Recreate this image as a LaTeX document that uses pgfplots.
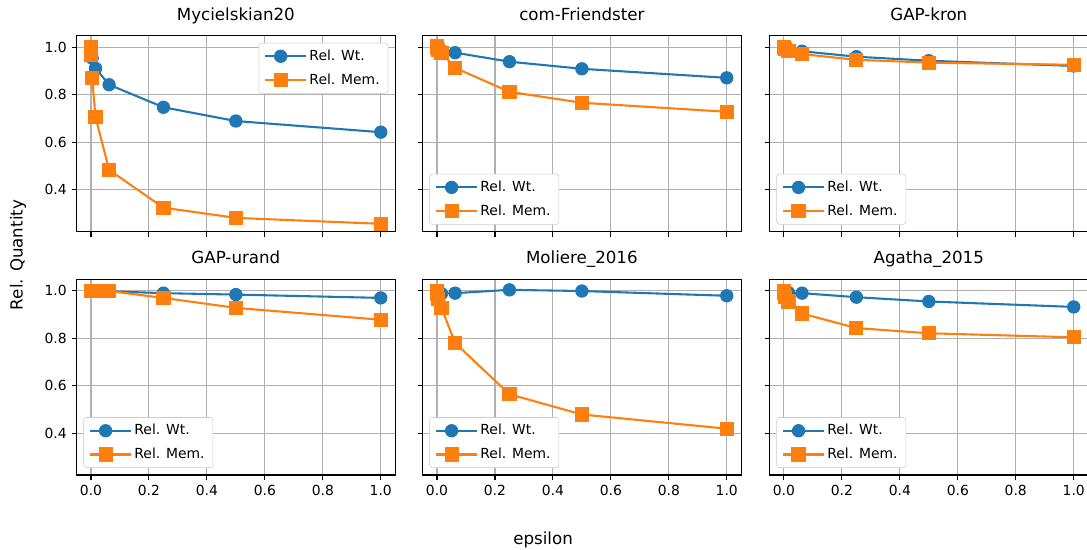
\documentclass[border=0pt]{standalone}
\usepackage{fontspec}
\setmainfont{DejaVu Sans}
\usepackage{pgfplots}
\pgfplotsset{compat=1.18}
\definecolor{c0}{HTML}{1F77B4}
\definecolor{c1}{HTML}{FF7F0E}
\pgfplotsset{
  panel/.style={
    scale only axis, width=229.5pt, height=141pt,
    xmin=-0.05, xmax=1.05, ymin=0.224, ymax=1.049,
    xtick={0,0.2,0.4,0.6,0.8,1}, ytick={0.4,0.6,0.8,1.0},
    /pgf/number format/assume math mode=true,
    tick label style={font=\fontsize{10}{12}\selectfont},
    xticklabel style={/pgf/number format/.cd, fixed, fixed zerofill, precision=1},
    yticklabel style={/pgf/number format/.cd, fixed, fixed zerofill, precision=1},
    tick align=outside, major tick length=3.5pt, tick pos=left,
    every tick/.style={black, line width=0.8pt},
    grid=major, major grid style={color=black!31, line width=0.8pt},
    axis line style={line width=0.8pt},
    title style={font=\fontsize{12}{14.4}\selectfont, at={(0.5,1)}, anchor=base, yshift=5pt},
    legend style={draw=black!20, rounded corners=2pt, fill=white,
      font=\fontsize{10}{12}\selectfont, inner xsep=4pt, inner ysep=3pt, row sep=4pt,
      cells={anchor=west}},
    legend cell align=left,
    legend image code/.code={\draw[mark repeat=2,mark phase=2,##1] plot coordinates {(0pt,0pt) (11pt,0pt) (22pt,0pt)};
      \path (0pt,0pt) -- (29pt,0pt);},
  },
  ll/.style={legend style={at={(axis description cs:0,0)}, anchor=south west, xshift=5pt, yshift=5pt}},
  ur/.style={legend style={at={(axis description cs:1,1)}, anchor=north east, xshift=-5pt, yshift=-5pt}},
  wt/.style={color=c0, line width=1.5pt, mark=*, mark size=4.3pt, mark options={solid, fill=c0, line width=1pt}},
  mem/.style={color=c1, line width=1.5pt, mark=square*, mark size=4.6pt, mark options={solid, fill=c1, line width=1pt}},
}
\begin{document}
\begin{tikzpicture}
\path[use as bounding box] (0,0) rectangle (782.64pt,396pt);
% Row 1
\begin{axis}[panel, ur, at={(55.08pt,229.2pt)}, anchor=south west, title={Mycielskian20}, xticklabels={}]
\addplot[wt] coordinates {(0,1.0) (0.001,0.985) (0.004,0.955) (0.015625,0.912) (0.0625,0.843) (0.25,0.748) (0.5,0.69) (1,0.643)};
\addplot[mem] coordinates {(0,1.0) (0.001,0.97) (0.004,0.872) (0.015625,0.707) (0.0625,0.484) (0.25,0.325) (0.5,0.282) (1,0.257)};
\legend{Rel. Wt., Rel. Mem.}
\end{axis}
\begin{axis}[panel, ll, at={(304.2pt,229.2pt)}, anchor=south west, title={com-Friendster}, xticklabels={}, yticklabels={}]
\addplot[wt] coordinates {(0,1.0) (0.001,0.998) (0.004,0.992) (0.015625,0.987) (0.0625,0.978) (0.25,0.94) (0.5,0.91) (1,0.872)};
\addplot[mem] coordinates {(0,1.005) (0.001,1.0) (0.004,0.99) (0.015625,0.977) (0.0625,0.914) (0.25,0.813) (0.5,0.767) (1,0.729)};
\legend{Rel. Wt., Rel. Mem.}
\end{axis}
\begin{axis}[panel, ll, at={(554pt,229.2pt)}, anchor=south west, title={GAP-kron}, xticklabels={}, yticklabels={}]
\addplot[wt] coordinates {(0,1.0) (0.001,0.998) (0.004,0.994) (0.015625,0.99) (0.0625,0.984) (0.25,0.961) (0.5,0.944) (1,0.922)};
\addplot[mem] coordinates {(0,1.0) (0.001,0.998) (0.004,0.994) (0.015625,0.986) (0.0625,0.972) (0.25,0.948) (0.5,0.936) (1,0.927)};
\legend{Rel. Wt., Rel. Mem.}
\end{axis}
% Row 2
\begin{axis}[panel, ll, at={(55.08pt,54pt)}, anchor=south west, title={GAP-urand}]
\addplot[wt] coordinates {(0,1.0) (0.001,1.0) (0.004,1.0) (0.015625,1.0) (0.0625,0.998) (0.25,0.99) (0.5,0.984) (1,0.97)};
\addplot[mem] coordinates {(0,1.0) (0.001,1.0) (0.004,1.0) (0.015625,1.0) (0.0625,0.999) (0.25,0.97) (0.5,0.928) (1,0.878)};
\legend{Rel. Wt., Rel. Mem.}
\end{axis}
\begin{axis}[panel, ll, at={(304.2pt,54pt)}, anchor=south west, title={Moliere\_2016}, yticklabels={}]
\addplot[wt] coordinates {(0,1.0) (0.001,0.995) (0.004,0.99) (0.015625,0.988) (0.0625,0.99) (0.25,1.004) (0.5,0.999) (1,0.979)};
\addplot[mem] coordinates {(0,1.0) (0.001,0.985) (0.004,0.965) (0.015625,0.928) (0.0625,0.78) (0.25,0.564) (0.5,0.479) (1,0.419)};
\legend{Rel. Wt., Rel. Mem.}
\end{axis}
\begin{axis}[panel, ll, at={(554pt,54pt)}, anchor=south west, title={Agatha\_2015}, yticklabels={}]
\addplot[wt] coordinates {(0,1.0) (0.001,0.998) (0.004,0.995) (0.015625,0.992) (0.0625,0.99) (0.25,0.973) (0.5,0.955) (1,0.932)};
\addplot[mem] coordinates {(0,1.0) (0.001,0.99) (0.004,0.975) (0.015625,0.955) (0.0625,0.904) (0.25,0.843) (0.5,0.821) (1,0.804)};
\legend{Rel. Wt., Rel. Mem.}
\end{axis}
\node[anchor=base, font=\fontsize{12}{14.4}\selectfont] at (391pt,3.6pt) {epsilon};
\node[rotate=90, anchor=center, font=\fontsize{12}{14.4}\selectfont] at (13pt,212.4pt) {Rel. Quantity};
\end{tikzpicture}
\end{document}
